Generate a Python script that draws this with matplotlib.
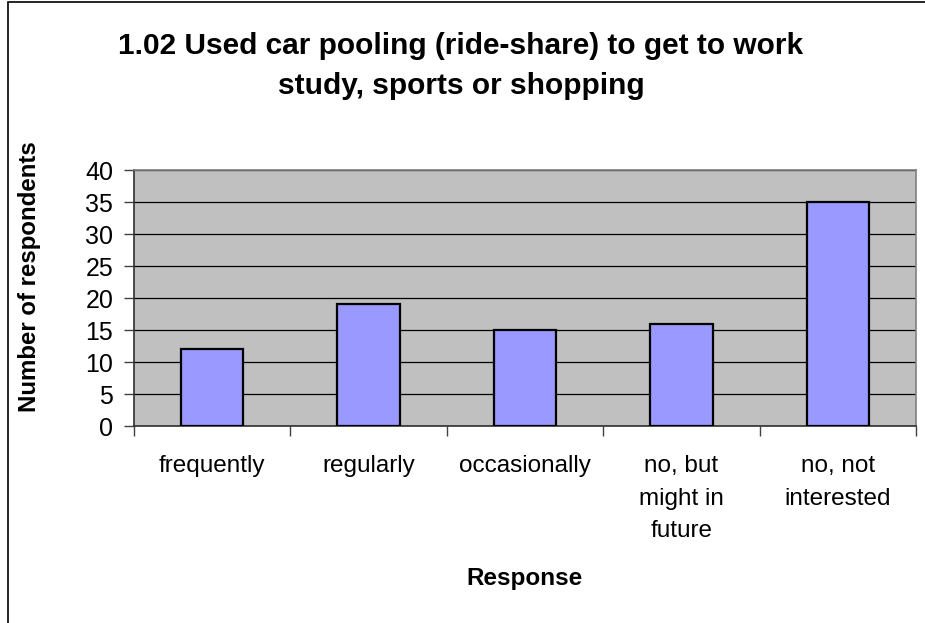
import numpy as np
import matplotlib.pyplot as plt
from matplotlib.patches import Rectangle

categories = ['frequently', 'regularly', 'occasionally', 'no, but\nmight in\nfuture', 'no, not\ninterested']
counts = [12, 19, 15, 16, 35]
yticks = [0, 5, 10, 15, 20, 25, 30, 35, 40]

plt.rcParams['font.family'] = ['Liberation Sans', 'DejaVu Sans']

W, H = 925, 623
fig = plt.figure(figsize=(W/100, H/100), dpi=100)
fig.patch.set_facecolor('white')

# outer chart frame (only left and top visible in the reference)
fig.patches.append(Rectangle((8/W, -0.1), 1.2, 1.1 - 2/H, transform=fig.transFigure,
                             fill=False, edgecolor='black', linewidth=1.2))

ax = fig.add_axes([134/W, 1-426/H, (916-134)/W, (426-170)/H])
ax.set_facecolor('#C0C0C0')

x = np.arange(len(categories))
ax.bar(x, counts, width=0.4, color='#9999FF', edgecolor='black', linewidth=1.6, zorder=3)

ax.set_xlim(-0.5, len(categories)-0.5)
ax.set_ylim(0, 40)
ax.set_yticks(yticks)
ax.yaxis.grid(True, color='black', linewidth=0.9, zorder=1)
ax.set_axisbelow(True)

ax.set_xticks(np.arange(len(categories)+1) - 0.5)
ax.set_xticklabels([])
ax.tick_params(axis='x', length=7, width=1, color='#404040')
ax.tick_params(axis='y', length=7, width=1, color='#404040', labelsize=18, pad=8)
for xi, lab in zip(x, categories):
    ax.text(xi, -0.113, lab, transform=ax.get_xaxis_transform(), ha='center', va='top',
            fontsize=17.5, linespacing=1.63)

for s in ['top', 'right']:
    ax.spines[s].set_color('#808080')
for s in ['left', 'bottom']:
    ax.spines[s].set_color('#303030')
for s in ax.spines.values():
    s.set_linewidth(1.2)

fig.text(461/W, 1-46/H, '1.02 Used car pooling (ride-share) to get to work', ha='center', va='center',
         fontsize=21.5, fontweight='bold')
fig.text(461/W, 1-86/H, 'study, sports or shopping', ha='center', va='center',
         fontsize=21.5, fontweight='bold')
fig.text(30/W, 1-277/H, 'Number of respondents', rotation=90, ha='center', va='center',
         fontsize=17.3, fontweight='bold')
fig.text(524/W, 1-578/H, 'Response', ha='center', va='center', fontsize=17.5, fontweight='bold')

fig.savefig('out.png', dpi=100)
